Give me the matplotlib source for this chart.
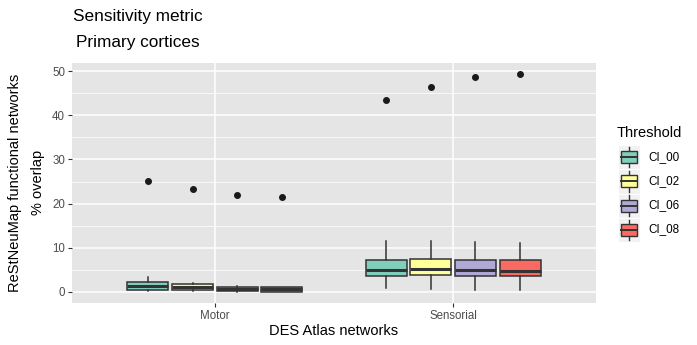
import matplotlib
matplotlib.use("Agg")
import matplotlib.pyplot as plt
from matplotlib.patches import Rectangle
from matplotlib.lines import Line2D

plt.rcParams['font.family'] = ['Liberation Sans', 'DejaVu Sans']

categories = ["Motor", "Sensorial"]
thresholds = ["CI_00", "CI_02", "CI_06", "CI_08"]
colors = ["#7FCFBB", "#FFFF99", "#B1A9D5", "#FA6A62"]

# box stats per category, per threshold
whislo = {"Motor": [0.1, 0.1, 0.0, 0.0], "Sensorial": [0.75, 0.7, 0.5, 0.5]}
q1 = {"Motor": [0.45, 0.45, 0.1, 0.05], "Sensorial": [3.6, 3.75, 3.6, 3.6]}
med = {"Motor": [1.4, 1.1, 0.6, 0.6], "Sensorial": [5.0, 5.1, 5.0, 4.8]}
q3 = {"Motor": [2.3, 1.7, 1.2, 1.05], "Sensorial": [7.25, 7.5, 7.25, 7.1]}
whishi = {"Motor": [3.4, 2.0, 1.4, 1.2], "Sensorial": [11.5, 11.5, 11.2, 11.1]}
outliers = {"Motor": [25.1, 23.3, 22.0, 21.4], "Sensorial": [43.4, 46.4, 48.7, 49.4]}

fig = plt.figure(figsize=(6.97, 3.45), dpi=100)
ax = fig.add_axes([72/697, 1-302.7/345, (596-72)/697, (302.7-63)/345])
ax.set_facecolor("#E5E5E5")
for s in ax.spines.values():
    s.set_visible(False)

dodge = 0.1875
bw = 0.172
for ci, cat in enumerate(categories):
    for ti, th in enumerate(thresholds):
        pos = ci + 1 + (ti - 1.5) * dodge
        st = [dict(whislo=whislo[cat][ti], q1=q1[cat][ti], med=med[cat][ti],
                   q3=q3[cat][ti], whishi=whishi[cat][ti],
                   fliers=[outliers[cat][ti]])]
        ax.bxp(st, positions=[pos], widths=bw, patch_artist=True,
               showcaps=False, zorder=3,
               boxprops=dict(facecolor=colors[ti], edgecolor="#333333", linewidth=1.1),
               medianprops=dict(color="#333333", linewidth=2.2),
               whiskerprops=dict(color="#333333", linewidth=1.1),
               flierprops=dict(marker="o", markerfacecolor="#1a1a1a",
                               markeredgecolor="#1a1a1a", markersize=4.0))

ax.set_xlim(0.4, 2.6)
ax.set_ylim(-2.47, 51.87)
ax.set_xticks([1, 2])
ax.set_xticklabels(categories)
ax.set_yticks([0, 10, 20, 30, 40, 50])
ax.set_yticks([5, 15, 25, 35, 45], minor=True)
ax.grid(True, which="major", color="white", linewidth=1.1, zorder=0)
ax.grid(True, which="minor", axis="y", color="white", linewidth=0.55, zorder=0)
ax.set_axisbelow(True)
ax.tick_params(axis="both", which="major", length=3, width=0.8, color="#333333",
               labelsize=8.3, labelcolor="#4D4D4D", pad=2)
ax.tick_params(axis="both", which="minor", length=0)
ax.set_xlabel("DES Atlas networks", fontsize=10.5, labelpad=2)
ax.set_ylabel("ReStNeuMap functional networks\n% overlap", fontsize=10.5, labelpad=5,
              linespacing=1.85)

fig.text(138/697, 1-17/345, "Sensitivity metric", ha="center", va="center", fontsize=12.4)
fig.text(138/697, 1-43/345, "Primary cortices", ha="center", va="center", fontsize=12.4)

# legend
fig.text(617/697, 1-133/345, "Threshold", ha="left", va="center", fontsize=10.5)
lax = fig.add_axes([618/697, 1-242/345, 22/697, (242-145)/345])
lax.set_xlim(0, 1)
lax.set_ylim(0, 4)
lax.axis("off")
for ti, th in enumerate(thresholds):
    yb = 3 - ti
    lax.add_patch(Rectangle((0, yb), 1, 1, facecolor="#F2F2F2", edgecolor="white", linewidth=0.8))
    lax.add_line(Line2D([0.5, 0.5], [yb + 0.08, yb + 0.92], color="#333333", linewidth=1.0))
    lax.add_patch(Rectangle((0.12, yb + 0.25), 0.76, 0.5, facecolor=colors[ti],
                            edgecolor="#333333", linewidth=1.0, zorder=3))
    lax.add_line(Line2D([0.12, 0.88], [yb + 0.5, yb + 0.5], color="#333333", linewidth=1.4, zorder=4))
    fig.text(648/697, 1-(157 + 24*ti)/345, th, ha="left", va="center", fontsize=8.4)

fig.savefig("out.png", dpi=100)
